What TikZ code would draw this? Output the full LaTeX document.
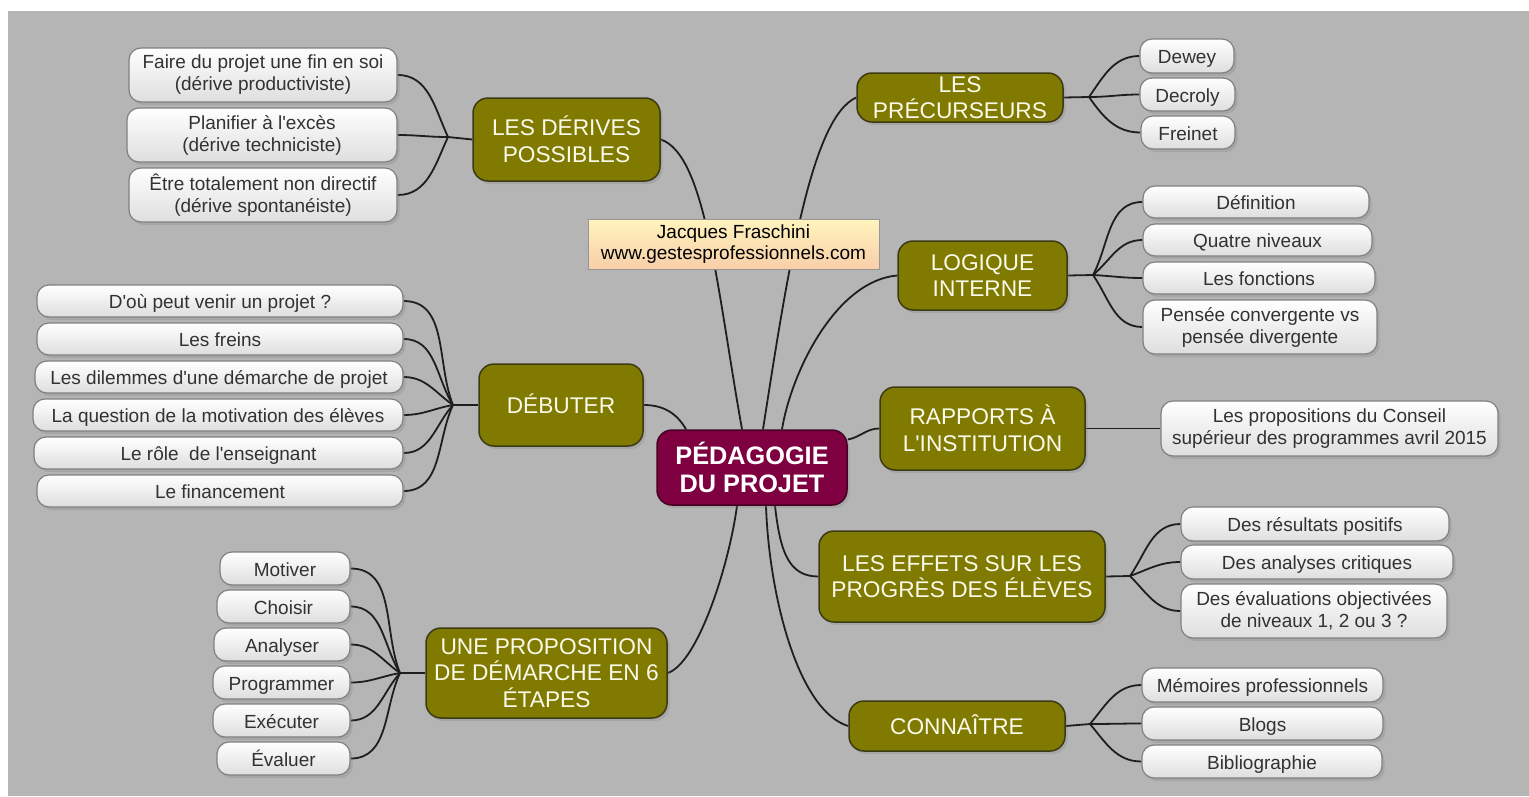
\documentclass[tikz,border=0pt]{standalone}
\usepackage{fontspec}
\setmainfont{Liberation Sans}[Ligatures=TeXOff]
\usetikzlibrary{shadows}
\definecolor{bgGray}{RGB}{181,181,181}
\definecolor{brOlive}{RGB}{128,123,0}
\definecolor{brBorder}{RGB}{60,58,20}
\definecolor{brText}{RGB}{250,250,235}
\definecolor{ctrFill}{RGB}{126,0,64}
\definecolor{ctrBorder}{RGB}{70,0,35}
\definecolor{leafBorder}{RGB}{128,128,128}
\definecolor{leafBottom}{RGB}{222,222,222}
\definecolor{leafText}{RGB}{50,50,50}
\definecolor{autTop}{RGB}{255,244,190}
\definecolor{autBottom}{RGB}{248,206,168}
\definecolor{autBorder}{RGB}{150,150,150}
\definecolor{lineCol}{RGB}{30,30,30}
\pgfdeclarelayer{backl}
\pgfdeclarelayer{linesl}
\pgfsetlayers{backl,linesl,main}
\tikzset{
  myshadow/.style={drop shadow={shadow xshift=2.5pt,shadow yshift=-3pt,opacity=0.28}},
  conn/.style={line width=1.8pt, draw=lineCol},
  leaf/.style={draw=leafBorder, line width=1.2pt, rounded corners=12pt,
    top color=white, bottom color=leafBottom, text=leafText,
    font=\fontsize{19}{22}\selectfont, align=center, inner sep=0pt, myshadow},
  sline/.style={text height=15pt, text depth=0pt},
  bline/.style={text height=16.3pt, text depth=0pt},
  branch/.style={draw=brBorder, line width=1.5pt, rounded corners=15pt,
    fill=brOlive, text=brText, font=\fontsize{22.7}{26.5}\selectfont,
    align=center, inner sep=0pt, myshadow},
  centre/.style={draw=ctrBorder, line width=1.5pt, rounded corners=15pt,
    fill=ctrFill, text=white, font=\fontsize{25.3}{28.5}\selectfont\bfseries,
    align=center, inner sep=0pt, myshadow},
  author/.style={draw=autBorder, line width=1pt, top color=autTop, bottom color=autBottom,
    text=black, font=\fontsize{19}{21}\selectfont, align=center, inner sep=0pt},
}
\begin{document}
\begin{tikzpicture}[x=1pt,y=1pt]
\useasboundingbox (0,0) rectangle (1529,-796);
\begin{pgfonlayer}{backl}
\fill[white] (0,0) rectangle (1529,-796);
\fill[bgGray] (8,-11) rectangle (1529,-796);
\end{pgfonlayer}

% centre
\node[centre, minimum width=190pt, minimum height=75pt] (ctr) at (752,-467.5) {PÉDAGOGIE\\DU PROJET};

% branches
\node[branch, minimum width=187pt, minimum height=83pt] (der) at (566.5,-139.5) {LES DÉRIVES\\POSSIBLES};
\node[branch, bline, minimum width=164pt, minimum height=82pt] (deb) at (561,-405) {DÉBUTER};
\node[branch, minimum width=241pt, minimum height=90pt] (eta) at (546.5,-673) {UNE PROPOSITION\\DE DÉMARCHE EN 6\\ÉTAPES};
\node[branch, minimum width=206pt, minimum height=49pt] (pre) at (960,-97.5) {LES\\PRÉCURSEURS};
\node[branch, minimum width=169pt, minimum height=69pt] (log) at (982.5,-275.5) {LOGIQUE\\INTERNE};
\node[branch, minimum width=205pt, minimum height=83pt] (rap) at (982.5,-428.5) {RAPPORTS À\\L'INSTITUTION};
\node[branch, minimum width=286pt, minimum height=91pt] (eff) at (962,-576.5) {LES EFFETS SUR LES\\PROGRÈS DES ÉLÈVES};
\node[branch, bline, minimum width=216pt, minimum height=50pt] (con) at (957,-726) {CONNAÎTRE};

% author
\node[author, minimum width=291pt, minimum height=50pt] (aut) at (733.5,-244) {Jacques Fraschini\\www.gestesprofessionnels.com};

% leaves: derives
\node[leaf, minimum width=268pt, minimum height=54pt] (der1) at (263,-75) {Faire du projet une fin en soi\\(dérive productiviste)};
\node[leaf, minimum width=270pt, minimum height=54pt] (der2) at (262,-135) {Planifier à l'excès\\(dérive techniciste)};
\node[leaf, minimum width=268pt, minimum height=54pt] (der3) at (263,-195) {Être totalement non directif\\(dérive spontanéiste)};
% leaves: debuter
\node[leaf, sline, minimum width=366pt, minimum height=32pt] (deb1) at (220,-301) {D'où peut venir un projet ?};
\node[leaf, sline, minimum width=366pt, minimum height=32pt] (deb2) at (220,-339) {Les freins};
\node[leaf, sline, minimum width=368pt, minimum height=32pt] (deb3) at (219,-377) {Les dilemmes d'une démarche de projet};
\node[leaf, sline, minimum width=370pt, minimum height=32pt] (deb4) at (218,-415) {La question de la motivation des élèves};
\node[leaf, sline, minimum width=369pt, minimum height=32pt] (deb5) at (218.5,-453) {Le rôle\ \ de l'enseignant};
\node[leaf, sline, minimum width=366pt, minimum height=32pt] (deb6) at (220,-491) {Le financement};
% leaves: etapes
\node[leaf, sline, minimum width=130pt, minimum height=33pt] (eta1) at (285,-568.5) {Motiver};
\node[leaf, sline, minimum width=133pt, minimum height=33pt] (eta2) at (283.5,-606.5) {Choisir};
\node[leaf, sline, minimum width=136pt, minimum height=33pt] (eta3) at (282,-644.5) {Analyser};
\node[leaf, sline, minimum width=137pt, minimum height=33pt] (eta4) at (281.5,-682.5) {Programmer};
\node[leaf, sline, minimum width=137pt, minimum height=33pt] (eta5) at (281.5,-720.5) {Exécuter};
\node[leaf, sline, minimum width=133pt, minimum height=33pt] (eta6) at (283.5,-758.5) {Évaluer};
% leaves: precurseurs
\node[leaf, sline, minimum width=94pt, minimum height=34pt] (pre1) at (1187,-56) {Dewey};
\node[leaf, sline, minimum width=95pt, minimum height=33pt] (pre2) at (1187.5,-94.5) {Decroly};
\node[leaf, sline, minimum width=94pt, minimum height=33pt] (pre3) at (1188,-132.5) {Freinet};
% leaves: logique
\node[leaf, sline, minimum width=226pt, minimum height=32pt] (log1) at (1256,-202) {Définition};
\node[leaf, sline, minimum width=229pt, minimum height=32pt] (log2) at (1257.5,-240) {Quatre niveaux};
\node[leaf, sline, minimum width=232pt, minimum height=32pt] (log3) at (1259,-278) {Les fonctions};
\node[leaf, minimum width=234pt, minimum height=54pt] (log4) at (1260,-327) {Pensée convergente vs\\pensée divergente};
% leaves: rapports
\node[leaf, minimum width=337pt, minimum height=55pt] (rap1) at (1329.5,-428.5) {Les propositions du Conseil\\supérieur des programmes avril 2015};
% leaves: effets
\node[leaf, sline, minimum width=268pt, minimum height=34pt] (eff1) at (1315,-524) {Des résultats positifs};
\node[leaf, sline, minimum width=272pt, minimum height=34pt] (eff2) at (1317,-562) {Des analyses critiques};
\node[leaf, minimum width=266pt, minimum height=54pt] (eff3) at (1314,-611) {Des évaluations objectivées\\de niveaux 1, 2 ou 3 ?};
% leaves: connaitre
\node[leaf, sline, minimum width=241pt, minimum height=34pt] (con1) at (1262.5,-685) {Mémoires professionnels};
\node[leaf, sline, minimum width=241pt, minimum height=33pt] (con2) at (1262.5,-723.5) {Blogs};
\node[leaf, sline, minimum width=240pt, minimum height=33pt] (con3) at (1262,-761.5) {Bibliographie};

% junctions
\coordinate (jder) at (448,-137);
\coordinate (jdeb) at (453,-405);
\coordinate (jeta) at (400,-673);
\coordinate (jpre) at (1089,-97);
\coordinate (jlog) at (1093,-275);
\coordinate (jeff) at (1130,-576);
\coordinate (jcon) at (1090,-724);

\begin{pgfonlayer}{linesl}
% centre to branches
\draw[conn] ([xshift=-10pt]ctr.north) .. controls +(-25,140) and +(45,-15) .. (der.east);
\draw[conn] ([xshift=11pt]ctr.north) .. controls +(25,160) and +(-45,-20) .. (pre.west);
\draw[conn] ([xshift=30pt]ctr.north) .. controls +(10,60) and +(-60,-5) .. (log.west);
\draw[conn] (deb.east) to[out=0,in=120] ([xshift=-66pt]ctr.north);
\draw[conn] ([yshift=28pt]ctr.east) to[out=10,in=180] (rap.west);
\draw[conn] ([xshift=-15pt]ctr.south) .. controls +(-8,-60) and +(30,10) .. (eta.east);
\draw[conn] ([xshift=23pt]ctr.south) .. controls +(5,-45) and +(-30,0) .. (eff.west);
\draw[conn] ([xshift=14pt]ctr.south) .. controls +(3,-90) and +(-50,15) .. (con.west);
% branch to junction
\draw[conn] (der.west) -- (jder);
\draw[conn] (deb.west) -- (jdeb);
\draw[conn] (eta.west) -- (jeta);
\draw[conn] (pre.east) -- (jpre);
\draw[conn] (log.east) -- (jlog);
\draw[conn] (rap.east) -- (rap1.west);
\draw[conn] (eff.east) -- (jeff);
\draw[conn] (con.east) -- (jcon);
% derives
\draw[conn] (der1.east) to[out=0,in=115] (jder);
\draw[conn] (der2.east) to[out=0,in=180] (jder);
\draw[conn] (der3.east) to[out=0,in=245] (jder);
% debuter
\draw[conn] (deb1.east) to[out=0,in=112] (jdeb);
\draw[conn] (deb2.east) to[out=0,in=122] (jdeb);
\draw[conn] (deb3.east) to[out=0,in=145] (jdeb);
\draw[conn] (deb4.east) to[out=0,in=190] (jdeb);
\draw[conn] (deb5.east) to[out=0,in=228] (jdeb);
\draw[conn] (deb6.east) to[out=0,in=245] (jdeb);
% etapes
\draw[conn] (eta1.east) to[out=0,in=112] (jeta);
\draw[conn] (eta2.east) to[out=0,in=122] (jeta);
\draw[conn] (eta3.east) to[out=0,in=145] (jeta);
\draw[conn] (eta4.east) to[out=0,in=190] (jeta);
\draw[conn] (eta5.east) to[out=0,in=228] (jeta);
\draw[conn] (eta6.east) to[out=0,in=245] (jeta);
% precurseurs
\draw[conn] (jpre) to[out=55,in=180] (pre1.west);
\draw[conn] (jpre) to[out=0,in=180] (pre2.west);
\draw[conn] (jpre) to[out=-55,in=180] (pre3.west);
% logique
\draw[conn] (jlog) to[out=62,in=180] (log1.west);
\draw[conn] (jlog) to[out=40,in=180] (log2.west);
\draw[conn] (jlog) to[out=-3,in=180] (log3.west);
\draw[conn] (jlog) to[out=-55,in=180] (log4.west);
% effets
\draw[conn] (jeff) to[out=55,in=180] (eff1.west);
\draw[conn] (jeff) to[out=20,in=180] (eff2.west);
\draw[conn] (jeff) to[out=-45,in=180] (eff3.west);
% connaitre
\draw[conn] (jcon) to[out=50,in=180] (con1.west);
\draw[conn] (jcon) to[out=0,in=180] (con2.west);
\draw[conn] (jcon) to[out=-50,in=180] (con3.west);
\end{pgfonlayer}
\end{tikzpicture}
\end{document}
